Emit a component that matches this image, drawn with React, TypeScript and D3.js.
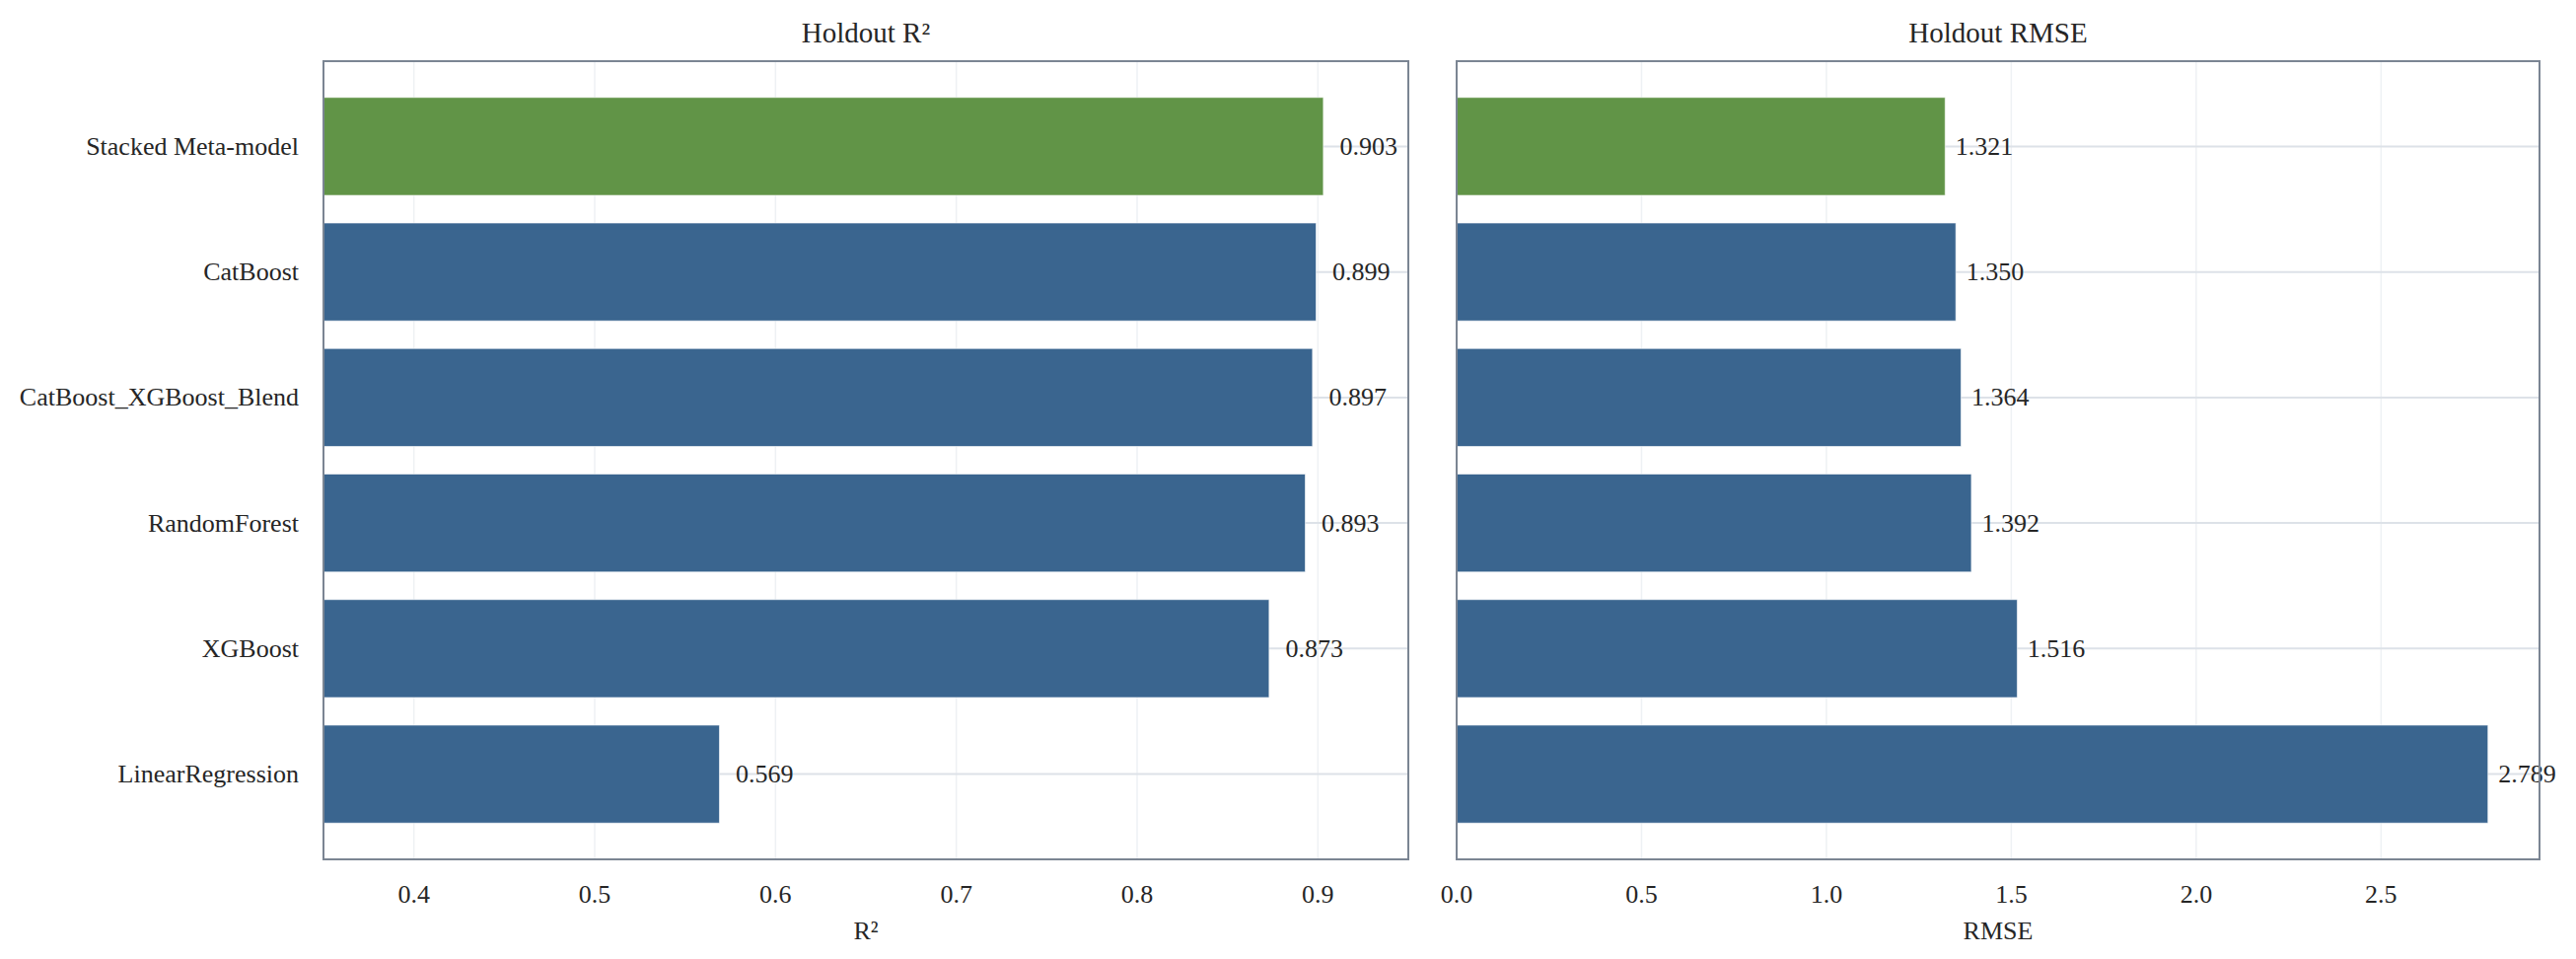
import * as d3 from "d3";
import { useEffect, useRef } from "react";

const models = [
    "Stacked Meta-model",
    "CatBoost",
    "CatBoost_XGBoost_Blend",
    "RandomForest",
    "XGBoost",
    "LinearRegression",
];
const r2Values = [0.903, 0.899, 0.897, 0.893, 0.873, 0.569];
const rmseValues = [1.321, 1.35, 1.364, 1.392, 1.516, 2.789];
const r2Ticks = [0.4, 0.5, 0.6, 0.7, 0.8, 0.9];
const rmseTicks = [0.0, 0.5, 1.0, 1.5, 2.0, 2.5];
const highlight = "Stacked Meta-model";

const WIDTH = 2612;
const HEIGHT = 972;
const FONT = "'Liberation Serif', 'Times New Roman', serif";
const TEXT = "#262626";
const BLUE = "#3a658f";
const GREEN = "#619447";
const FS = 26;

type Panel = {
    title: string;
    xLabel: string;
    values: number[];
    ticks: number[];
    domain: [number, number];
    left: number;
    right: number;
    showNames: boolean;
};

export default function App() {
    const ref = useRef<SVGSVGElement | null>(null);

    useEffect(() => {
        if (!ref.current) return;
        const svg = d3.select(ref.current);
        svg.selectAll("*").remove();

        const top = 62;
        const bottom = 871;

        const panels: Panel[] = [
            {
                title: "Holdout R²",
                xLabel: "R²",
                values: r2Values,
                ticks: r2Ticks,
                domain: [0.35, 0.95],
                left: 328,
                right: 1428,
                showNames: true,
            },
            {
                title: "Holdout RMSE",
                xLabel: "RMSE",
                values: rmseValues,
                ticks: rmseTicks,
                domain: [0, d3.max(rmseValues)! * 1.05],
                left: 1477,
                right: 2575,
                showNames: false,
            },
        ];

        const y = d3.scaleBand<string>()
            .domain(models)
            .range([top, bottom])
            .paddingInner(0.22)
            .paddingOuter(0.289);

        panels.forEach((p) => {
            const x = d3.scaleLinear().domain(p.domain).range([p.left, p.right]);
            const g = svg.append("g");
            const offset = d3.max(p.values)! * 0.01;

            // grid
            g.append("g")
                .selectAll("line")
                .data(p.ticks)
                .join("line")
                .attr("x1", (d) => x(d))
                .attr("x2", (d) => x(d))
                .attr("y1", top)
                .attr("y2", bottom)
                .attr("stroke", "#eef1f4")
                .attr("stroke-width", 1.5);

            g.append("g")
                .selectAll("line")
                .data(models)
                .join("line")
                .attr("x1", p.left)
                .attr("x2", p.right)
                .attr("y1", (d) => y(d)! + y.bandwidth() / 2)
                .attr("y2", (d) => y(d)! + y.bandwidth() / 2)
                .attr("stroke", "#dde2e8")
                .attr("stroke-width", 2);

            // bars
            g.append("g")
                .selectAll("rect")
                .data(models)
                .join("rect")
                .attr("x", x(p.domain[0]))
                .attr("y", (d) => y(d)!)
                .attr("width", (_, i) => x(p.values[i]) - x(p.domain[0]))
                .attr("height", y.bandwidth())
                .attr("fill", (d) => (d === highlight ? GREEN : BLUE))
                .attr("stroke", "#ffffff")
                .attr("stroke-opacity", 0.6)
                .attr("stroke-width", 1);

            // value labels
            g.append("g")
                .selectAll("text")
                .data(models)
                .join("text")
                .attr("x", (_, i) => x(p.values[i] + offset))
                .attr("y", (d) => y(d)! + y.bandwidth() / 2)
                .attr("dominant-baseline", "central")
                .attr("font-family", FONT)
                .attr("font-size", FS)
                .attr("fill", TEXT)
                .text((_, i) => p.values[i].toFixed(3));

            // spines
            g.append("rect")
                .attr("x", p.left)
                .attr("y", top)
                .attr("width", p.right - p.left)
                .attr("height", bottom - top)
                .attr("fill", "none")
                .attr("stroke", "#7b8593")
                .attr("stroke-width", 2);

            // x ticks
            g.append("g")
                .selectAll("text")
                .data(p.ticks)
                .join("text")
                .attr("x", (d) => x(d))
                .attr("y", 915)
                .attr("text-anchor", "middle")
                .attr("font-family", FONT)
                .attr("font-size", FS)
                .attr("fill", TEXT)
                .text((d) => d3.format(".1f")(d));

            g.append("text")
                .attr("x", (p.left + p.right) / 2)
                .attr("y", 952)
                .attr("text-anchor", "middle")
                .attr("font-family", FONT)
                .attr("font-size", FS)
                .attr("fill", TEXT)
                .text(p.xLabel);

            g.append("text")
                .attr("x", (p.left + p.right) / 2)
                .attr("y", 43)
                .attr("text-anchor", "middle")
                .attr("font-family", FONT)
                .attr("font-size", 29)
                .attr("fill", TEXT)
                .text(p.title);

            if (p.showNames) {
                g.append("g")
                    .selectAll("text")
                    .data(models)
                    .join("text")
                    .attr("x", p.left - 25)
                    .attr("y", (d) => y(d)! + y.bandwidth() / 2)
                    .attr("text-anchor", "end")
                    .attr("dominant-baseline", "central")
                    .attr("font-family", FONT)
                    .attr("font-size", FS)
                    .attr("fill", TEXT)
                    .text((d) => d);
            }
        });
    }, []);

    return (
        <div style={{ position: "absolute", left: 0, top: 0, background: "#ffffff" }}>
            <svg ref={ref} width={WIDTH} height={HEIGHT} style={{ display: "block" }}></svg>
        </div>
    );
}
